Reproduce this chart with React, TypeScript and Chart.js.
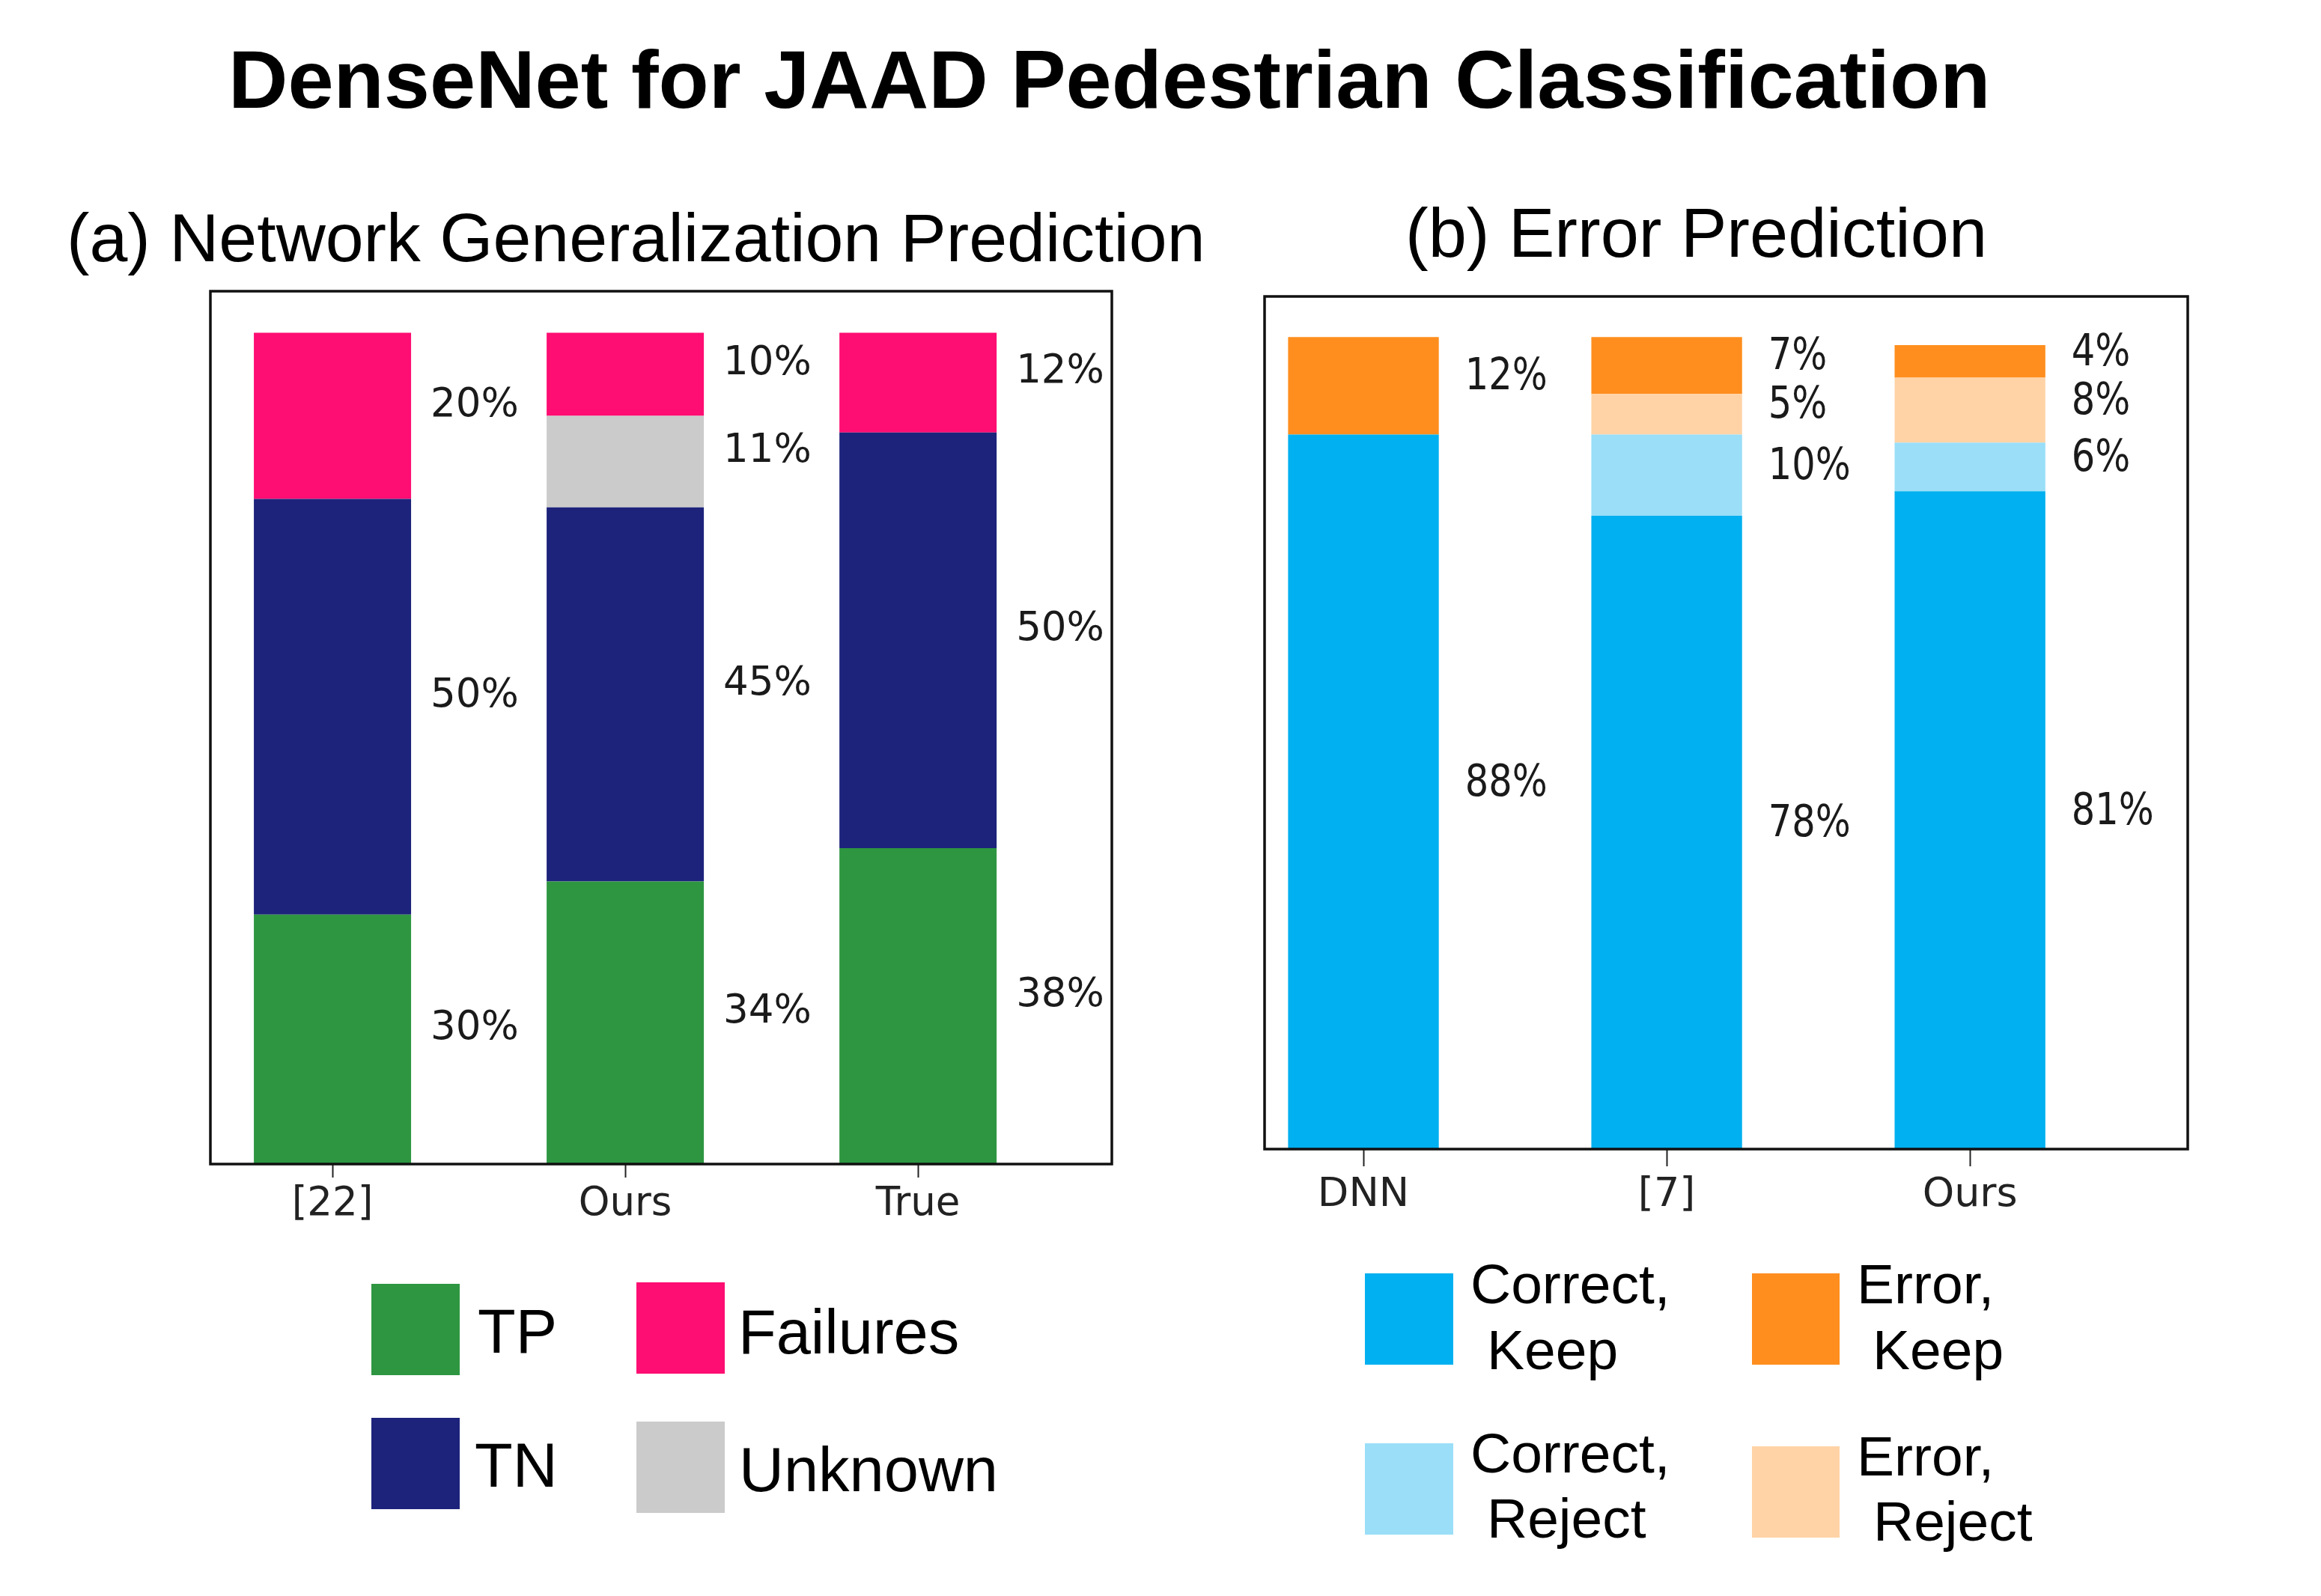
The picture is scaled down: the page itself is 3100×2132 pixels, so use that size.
import React, { useEffect, useRef } from 'react';
import { Chart, registerables } from 'chart.js';

Chart.register(...registerables);

// ---------- data ----------
const catsA = ['[22]', 'Ours', 'True'];
const tpA = [30, 34, 38];
const tnA = [50, 45, 50];
const unknownA = [0, 11, 0];
const failuresA = [20, 10, 12];

const catsB = ['DNN', '[7]', 'Ours'];
const correctKeepB = [88, 78, 81];
const correctRejectB = [0, 10, 6];
const errorRejectB = [0, 5, 8];
const errorKeepB = [12, 7, 4];

// ---------- styles ----------
const COL = {
  tp: '#2E9641',
  tn: '#1D237B',
  unknown: '#CBCBCB',
  failures: '#FE0D72',
  ck: '#00B0F0',
  cr: '#9ADEF8',
  er: '#FFD3A6',
  ek: '#FF8E1E',
};

const toPoints = (vals: number[]) => vals.map((v, i) => ({ x: i, y: v }));

type LabelCfg = { size: number; dx: number; dy: number; sy: number };

const makeLabelPlugin = (cfg: LabelCfg) => ({
  id: 'segLabels',
  afterDatasetsDraw(chart: any) {
    const ctx = chart.ctx;
    ctx.save();
    ctx.fillStyle = '#1a1a1a';
    ctx.font = `${cfg.size}px "DejaVu Sans"`;
    ctx.textAlign = 'left';
    ctx.textBaseline = 'alphabetic';
    chart.data.datasets.forEach((ds: any, di: number) => {
      const meta = chart.getDatasetMeta(di);
      meta.data.forEach((el: any, i: number) => {
        const v = ds.data[i].y;
        if (!v) return;
        const p = el.getProps(['x', 'y', 'base', 'width'], true);
        const cx = p.x + p.width / 2 + cfg.dx;
        const cy = (p.y + p.base) / 2 + cfg.dy;
        ctx.save();
        ctx.translate(cx, cy);
        ctx.scale(1, cfg.sy);
        ctx.fillText(`${v}%`, 0, 0);
        ctx.restore();
      });
    });
    const a = chart.chartArea;
    ctx.strokeStyle = '#111';
    ctx.lineWidth = 3.5;
    ctx.strokeRect(a.left, a.top, a.right - a.left, a.bottom - a.top);
    ctx.restore();
  },
});

const makeConfig = (
  cats: string[],
  datasets: any[],
  xr: { min: number; max: number },
  tick: { len: number; pad: number; size: number },
  label: LabelCfg
): any => ({
  type: 'bar',
  data: { datasets },
  options: {
    animation: false,
    responsive: false,
    maintainAspectRatio: false,
    layout: { padding: { left: 50, right: 50, top: 50, bottom: 0 } },
    plugins: {
      legend: { display: false },
      tooltip: { enabled: false },
      title: { display: false },
    },
    scales: {
      x: {
        type: 'linear',
        stacked: true,
        min: xr.min,
        max: xr.max,
        offset: false,
        afterBuildTicks: (s: any) => {
          s.ticks = cats.map((_, i) => ({ value: i }));
        },
        afterFit: (s: any) => {
          s.height = 150;
        },
        grid: {
          display: true,
          offset: false,
          drawOnChartArea: false,
          drawTicks: true,
          tickLength: tick.len,
          tickColor: '#222',
          tickWidth: 2,
        },
        border: { display: false },
        ticks: {
          callback: (v: number) => cats[v] ?? '',
          font: { family: 'DejaVu Sans', size: tick.size },
          color: '#222',
          padding: tick.pad,
          maxRotation: 0,
          autoSkip: false,
        },
      },
      y: { display: false, stacked: true, min: 0, max: 105 },
    },
  },
  plugins: [makeLabelPlugin(label)],
});

const ds = (label: string, vals: number[], color: string, bp: number) => ({
  label,
  data: toPoints(vals),
  backgroundColor: color,
  borderWidth: 0,
  barPercentage: bp,
  categoryPercentage: 1,
});

function ChartCanvas({ config, left, top, width, height }: any) {
  const ref = useRef<HTMLCanvasElement | null>(null);
  useEffect(() => {
    if (!ref.current) return;
    const chart = new Chart(ref.current, config);
    return () => chart.destroy();
  }, []);
  return (
    <canvas
      ref={ref}
      width={width}
      height={height}
      style={{ position: 'absolute', left, top, width, height }}
    />
  );
}

export default function App() {
  useEffect(() => {
    document.body.style.margin = '0';
  }, []);

  const configA = makeConfig(
    catsA,
    [
      ds('TP', tpA, COL.tp, 0.537),
      ds('TN', tnA, COL.tn, 0.537),
      ds('Unknown', unknownA, COL.unknown, 0.537),
      ds('Failures', failuresA, COL.failures, 0.537),
    ],
    { min: -0.417, max: 2.662 },
    { len: 18, pad: 4, size: 53 },
    { size: 53, dx: 26, dy: 0, sy: 1 }
  );

  const configB = makeConfig(
    catsB,
    [
      ds('Correct, Keep', correctKeepB, COL.ck, 0.497),
      ds('Correct, Reject', correctRejectB, COL.cr, 0.497),
      ds('Error, Reject', errorRejectB, COL.er, 0.497),
      ds('Error, Keep', errorKeepB, COL.ek, 0.497),
    ],
    { min: -0.326, max: 2.718 },
    { len: 23, pad: 7, size: 54 },
    { size: 49.5, dx: 35, dy: 5, sy: 1.18 }
  );

  const sans = '"Liberation Sans", Arial, sans-serif';

  return (
    <div
      style={{
        position: 'relative',
        width: 3100,
        height: 2132,
        background: '#fff',
        overflow: 'hidden',
      }}
    >
      <ChartCanvas config={configA} left={231} top={339} width={1304} height={1366} />
      <ChartCanvas config={configB} left={1639} top={346} width={1333} height={1339} />
      <svg
        width={3100}
        height={2132}
        style={{ position: 'absolute', left: 0, top: 0 }}
        fontFamily={sans}
      >
        <text x={305} y={144} fontSize={110} fontWeight="bold" fill="#000">
          DenseNet for JAAD Pedestrian Classification
        </text>
        <text x={89} y={349} fontSize={91.5} fill="#000">
          (a) Network Generalization Prediction
        </text>
        <text x={1877} y={343} fontSize={92} fill="#000">
          (b) Error Prediction
        </text>

        {/* legend (a) */}
        <rect x={496} y={1715} width={118} height={122} fill={COL.tp} />
        <text x={638} y={1807} fontSize={83} fill="#000">TP</text>
        <rect x={850} y={1713} width={118} height={122} fill={COL.failures} />
        <text x={986} y={1808} fontSize={83} fill="#000">Failures</text>
        <rect x={496} y={1894} width={118} height={122} fill={COL.tn} />
        <text x={634} y={1986} fontSize={83} fill="#000">TN</text>
        <rect x={850} y={1899} width={118} height={122} fill={COL.unknown} />
        <text x={987} y={1992} fontSize={83} fill="#000">Unknown</text>

        {/* legend (b) */}
        <rect x={1823} y={1701} width={118} height={122} fill={COL.ck} />
        <text x={1964} y={1741} fontSize={75} fill="#000">Correct,</text>
        <text x={1986} y={1829} fontSize={75} fill="#000">Keep</text>
        <rect x={2340} y={1701} width={117} height={122} fill={COL.ek} />
        <text x={2480} y={1741} fontSize={75} fill="#000">Error,</text>
        <text x={2501} y={1829} fontSize={75} fill="#000">Keep</text>
        <rect x={1823} y={1928} width={118} height={122} fill={COL.cr} />
        <text x={1964} y={1967} fontSize={75} fill="#000">Correct,</text>
        <text x={1986} y={2054} fontSize={75} fill="#000">Reject</text>
        <rect x={2340} y={1932} width={117} height={122} fill={COL.er} />
        <text x={2480} y={1971} fontSize={75} fill="#000">Error,</text>
        <text x={2502} y={2058} fontSize={75} fill="#000">Reject</text>
      </svg>
    </div>
  );
}
